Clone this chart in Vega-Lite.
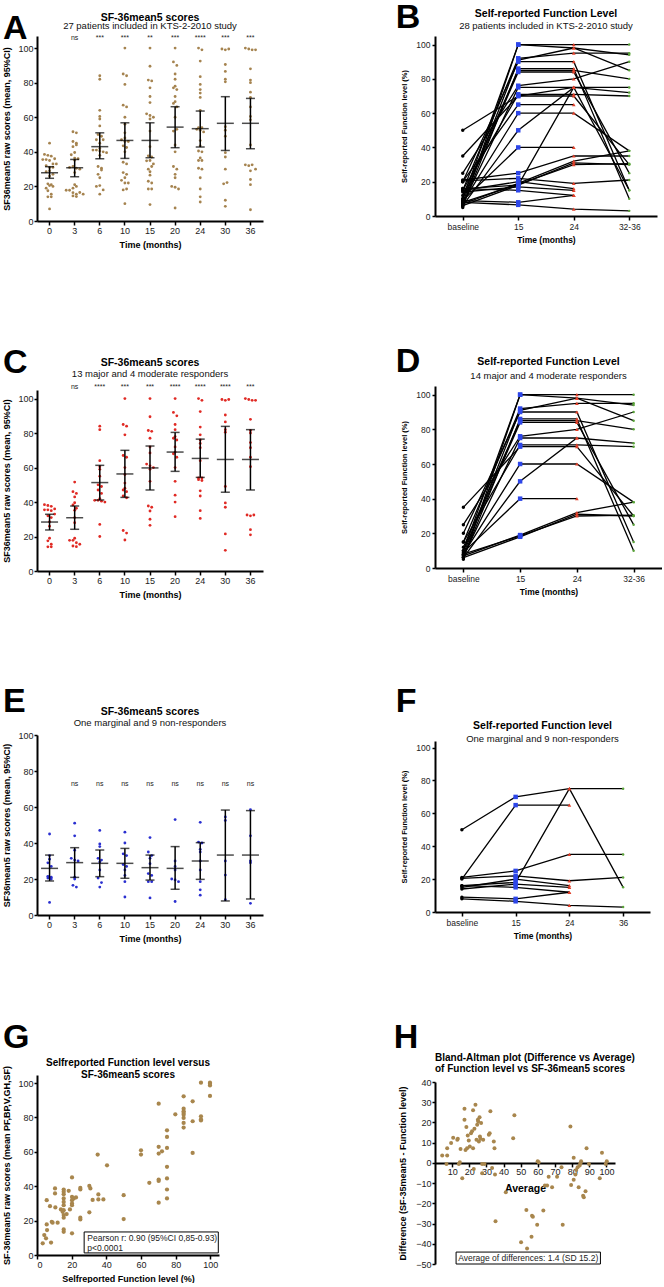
{
"$schema":"https://vega.github.io/schema/vega-lite/v6.json",
"padding":{"left":2,"top":0,"right":0,"bottom":0},
"background":"white",
"config":{"font":"Liberation Sans","view":{"stroke":null},
"axis":{"domainColor":"black","domainWidth":2,"tickColor":"black","tickWidth":1.5,"labelColor":"#222","labelFontSize":9,"titleFontWeight":"bold","titleFontSize":9,"titleColor":"black","grid":false,"labelPadding":1,"titlePadding":5,"labelOverlap":false},
"axisX":{"tickSize":4},"axisY":{"tickSize":3},
"title":{"color":"black","subtitleColor":"#111"}},
"datasets":{
"sf":[
{"g":"R","t":"0","v":38.5},{"g":"R","t":"0","v":38},{"g":"R","t":"0","v":37.5},{"g":"R","t":"0","v":36},{"g":"R","t":"0","v":35.5},{"g":"R","t":"0","v":35.5},{"g":"R","t":"0","v":35},{"g":"R","t":"0","v":33},{"g":"R","t":"0","v":32},{"g":"R","t":"0","v":31},{"g":"R","t":"0","v":28.5},{"g":"R","t":"0","v":26},{"g":"R","t":"0","v":19},{"g":"R","t":"0","v":17.5},{"g":"R","t":"0","v":15.5},{"g":"R","t":"0","v":14},{"g":"R","t":"0","v":14},
{"g":"R","t":"3","v":51.6},{"g":"R","t":"3","v":46},{"g":"R","t":"3","v":45},{"g":"R","t":"3","v":43},{"g":"R","t":"3","v":39.6},{"g":"R","t":"3","v":38.3},{"g":"R","t":"3","v":36.4},{"g":"R","t":"3","v":35.2},{"g":"R","t":"3","v":31},{"g":"R","t":"3","v":28},{"g":"R","t":"3","v":19},{"g":"R","t":"3","v":17.8},{"g":"R","t":"3","v":17.8},{"g":"R","t":"3","v":16.4},{"g":"R","t":"3","v":15.5},{"g":"R","t":"3","v":14.5},{"g":"R","t":"3","v":14.1},
{"g":"R","t":"6","v":84},{"g":"R","t":"6","v":82},{"g":"R","t":"6","v":64},{"g":"R","t":"6","v":60.5},{"g":"R","t":"6","v":59},{"g":"R","t":"6","v":55},{"g":"R","t":"6","v":50},{"g":"R","t":"6","v":49},{"g":"R","t":"6","v":47},{"g":"R","t":"6","v":45},{"g":"R","t":"6","v":42},{"g":"R","t":"6","v":41},{"g":"R","t":"6","v":41},{"g":"R","t":"6","v":40.5},{"g":"R","t":"6","v":40},{"g":"R","t":"6","v":27},{"g":"R","t":"6","v":20},
{"g":"R","t":"10","v":100},{"g":"R","t":"10","v":85},{"g":"R","t":"10","v":84},{"g":"R","t":"10","v":79},{"g":"R","t":"10","v":67},{"g":"R","t":"10","v":66},{"g":"R","t":"10","v":60},{"g":"R","t":"10","v":56},{"g":"R","t":"10","v":51},{"g":"R","t":"10","v":48},{"g":"R","t":"10","v":47},{"g":"R","t":"10","v":46},{"g":"R","t":"10","v":43.5},{"g":"R","t":"10","v":42.5},{"g":"R","t":"10","v":23.5},{"g":"R","t":"10","v":22},{"g":"R","t":"10","v":18},
{"g":"R","t":"15","v":100},{"g":"R","t":"15","v":89.5},{"g":"R","t":"15","v":81.5},{"g":"R","t":"15","v":81},{"g":"R","t":"15","v":77},{"g":"R","t":"15","v":72},{"g":"R","t":"15","v":68.5},{"g":"R","t":"15","v":62},{"g":"R","t":"15","v":61},{"g":"R","t":"15","v":60},{"g":"R","t":"15","v":59},{"g":"R","t":"15","v":52},{"g":"R","t":"15","v":37.7},{"g":"R","t":"15","v":37},{"g":"R","t":"15","v":34.8},{"g":"R","t":"15","v":30},{"g":"R","t":"15","v":26.5},
{"g":"R","t":"20","v":100},{"g":"R","t":"20","v":92},{"g":"R","t":"20","v":90},{"g":"R","t":"20","v":85},{"g":"R","t":"20","v":82},{"g":"R","t":"20","v":78},{"g":"R","t":"20","v":77},{"g":"R","t":"20","v":76},{"g":"R","t":"20","v":72},{"g":"R","t":"20","v":69},{"g":"R","t":"20","v":68},{"g":"R","t":"20","v":66},{"g":"R","t":"20","v":60},{"g":"R","t":"20","v":52},{"g":"R","t":"20","v":44},{"g":"R","t":"20","v":40},{"g":"R","t":"20","v":31.5},
{"g":"R","t":"24","v":100},{"g":"R","t":"24","v":99},{"g":"R","t":"24","v":92.5},{"g":"R","t":"24","v":83.5},{"g":"R","t":"24","v":79},{"g":"R","t":"24","v":76},{"g":"R","t":"24","v":74},{"g":"R","t":"24","v":71.5},{"g":"R","t":"24","v":64},{"g":"R","t":"24","v":54},{"g":"R","t":"24","v":54},{"g":"R","t":"24","v":53},{"g":"R","t":"24","v":52.5},{"g":"R","t":"24","v":46.5},{"g":"R","t":"24","v":43.5},{"g":"R","t":"24","v":35},{"g":"R","t":"24","v":30.5},
{"g":"R","t":"30","v":99.5},{"g":"R","t":"30","v":99},{"g":"R","t":"30","v":99.5},{"g":"R","t":"30","v":90.5},{"g":"R","t":"30","v":86.5},{"g":"R","t":"30","v":82},{"g":"R","t":"30","v":80.5},{"g":"R","t":"30","v":49},{"g":"R","t":"30","v":39.5},{"g":"R","t":"30","v":37},{"g":"R","t":"30","v":21.5},{"g":"R","t":"30","v":12},
{"g":"R","t":"36","v":100},{"g":"R","t":"36","v":99.5},{"g":"R","t":"36","v":99},{"g":"R","t":"36","v":99},{"g":"R","t":"36","v":88},{"g":"R","t":"36","v":81.5},{"g":"R","t":"36","v":80},{"g":"R","t":"36","v":74.5},{"g":"R","t":"36","v":71.5},{"g":"R","t":"36","v":66},{"g":"R","t":"36","v":60.5},{"g":"R","t":"36","v":32.5},{"g":"R","t":"36","v":32},{"g":"R","t":"36","v":32.5},{"g":"R","t":"36","v":24},{"g":"R","t":"36","v":21},
{"g":"N","t":"0","v":45},{"g":"N","t":"0","v":33},{"g":"N","t":"0","v":31},{"g":"N","t":"0","v":29},{"g":"N","t":"0","v":27},{"g":"N","t":"0","v":21.5},{"g":"N","t":"0","v":21},{"g":"N","t":"0","v":20.5},{"g":"N","t":"0","v":20},{"g":"N","t":"0","v":7},
{"g":"N","t":"3","v":51},{"g":"N","t":"3","v":44},{"g":"N","t":"3","v":36},{"g":"N","t":"3","v":31.5},{"g":"N","t":"3","v":30.5},{"g":"N","t":"3","v":30},{"g":"N","t":"3","v":21},{"g":"N","t":"3","v":20},{"g":"N","t":"3","v":16.5},{"g":"N","t":"3","v":15.5},
{"g":"N","t":"6","v":47},{"g":"N","t":"6","v":39.5},{"g":"N","t":"6","v":38},{"g":"N","t":"6","v":31.5},{"g":"N","t":"6","v":30.5},{"g":"N","t":"6","v":29.5},{"g":"N","t":"6","v":25},{"g":"N","t":"6","v":20.5},{"g":"N","t":"6","v":18},{"g":"N","t":"6","v":15.5},
{"g":"N","t":"10","v":46},{"g":"N","t":"10","v":40},{"g":"N","t":"10","v":34},{"g":"N","t":"10","v":33},{"g":"N","t":"10","v":28},{"g":"N","t":"10","v":27},{"g":"N","t":"10","v":25},{"g":"N","t":"10","v":22},{"g":"N","t":"10","v":18.5},{"g":"N","t":"10","v":10},
{"g":"N","t":"15","v":43},{"g":"N","t":"15","v":35},{"g":"N","t":"15","v":33},{"g":"N","t":"15","v":31.5},{"g":"N","t":"15","v":28.5},{"g":"N","t":"15","v":23},{"g":"N","t":"15","v":22},{"g":"N","t":"15","v":18.5},{"g":"N","t":"15","v":18.5},{"g":"N","t":"15","v":9.5},
{"g":"N","t":"20","v":53},{"g":"N","t":"20","v":30},{"g":"N","t":"20","v":27},{"g":"N","t":"20","v":25},{"g":"N","t":"20","v":20},{"g":"N","t":"20","v":19.5},{"g":"N","t":"20","v":18.5},{"g":"N","t":"20","v":7.5},
{"g":"N","t":"24","v":51.5},{"g":"N","t":"24","v":40.5},{"g":"N","t":"24","v":40},{"g":"N","t":"24","v":36.5},{"g":"N","t":"24","v":35},{"g":"N","t":"24","v":30},{"g":"N","t":"24","v":25},{"g":"N","t":"24","v":18.5},{"g":"N","t":"24","v":14},{"g":"N","t":"24","v":11},
{"g":"N","t":"30","v":54.5},{"g":"N","t":"30","v":52.5},{"g":"N","t":"30","v":30},{"g":"N","t":"30","v":22.2},{"g":"N","t":"30","v":8.5},
{"g":"N","t":"36","v":58.5},{"g":"N","t":"36","v":44},{"g":"N","t":"36","v":30},{"g":"N","t":"36","v":29},{"g":"N","t":"36","v":6.5}
],
"st":[
{"p":"A","t":"0","m":27.9,"lo":24.7,"hi":31.4},{"p":"A","t":"3","m":30.8,"lo":25.6,"hi":35.6},{"p":"A","t":"6","m":43,"lo":36,"hi":51},{"p":"A","t":"10","m":46.6,"lo":36.2,"hi":56.8},{"p":"A","t":"15","m":46.6,"lo":36.6,"hi":56.8},{"p":"A","t":"20","m":54.3,"lo":42.4,"hi":66.1},{"p":"A","t":"24","m":53.4,"lo":42.8,"hi":63.6},{"p":"A","t":"30","m":56.5,"lo":40.8,"hi":71.9},{"p":"A","t":"36","m":56.5,"lo":41.8,"hi":70.9},
{"p":"C","t":"0","m":28.4,"lo":23.8,"hi":32.9},{"p":"C","t":"3","m":30.9,"lo":24.2,"hi":37.7},{"p":"C","t":"6","m":51.3,"lo":41.2,"hi":61.3},{"p":"C","t":"10","m":56.3,"lo":42.7,"hi":70},{"p":"C","t":"15","m":59.8,"lo":47,"hi":72.5},{"p":"C","t":"20","m":69,"lo":57.8,"hi":80.4},{"p":"C","t":"24","m":65.3,"lo":54.3,"hi":76.5},{"p":"C","t":"30","m":64.7,"lo":45.7,"hi":83.9},{"p":"C","t":"36","m":64.7,"lo":47,"hi":82},
{"p":"E","t":"0","m":25.9,"lo":18.9,"hi":33.3},{"p":"E","t":"3","m":29.1,"lo":20.9,"hi":37.4},{"p":"E","t":"6","m":28.7,"lo":21.3,"hi":36.1},{"p":"E","t":"10","m":28.7,"lo":20.4,"hi":37},{"p":"E","t":"15","m":26.3,"lo":19.4,"hi":33.3},{"p":"E","t":"20","m":25.9,"lo":14.3,"hi":38},{"p":"E","t":"24","m":30,"lo":19.8,"hi":40.2},{"p":"E","t":"30","m":33.3,"lo":7.8,"hi":58.3},{"p":"E","t":"36","m":33.3,"lo":8.9,"hi":58}
],
"sig":[
{"p":"A","t":"3","s":"ns"},{"p":"A","t":"6","s":"***"},{"p":"A","t":"10","s":"***"},{"p":"A","t":"15","s":"**"},{"p":"A","t":"20","s":"***"},{"p":"A","t":"24","s":"****"},{"p":"A","t":"30","s":"***"},{"p":"A","t":"36","s":"***"},
{"p":"C","t":"3","s":"ns"},{"p":"C","t":"6","s":"****"},{"p":"C","t":"10","s":"***"},{"p":"C","t":"15","s":"***"},{"p":"C","t":"20","s":"****"},{"p":"C","t":"24","s":"****"},{"p":"C","t":"30","s":"****"},{"p":"C","t":"36","s":"***"},
{"p":"E","t":"3","s":"ns"},{"p":"E","t":"6","s":"ns"},{"p":"E","t":"10","s":"ns"},{"p":"E","t":"15","s":"ns"},{"p":"E","t":"20","s":"ns"},{"p":"E","t":"24","s":"ns"},{"p":"E","t":"30","s":"ns"},{"p":"E","t":"36","s":"ns"}
],
"fl":[
{"id":"d1","g":"R","tp":"baseline","v":5},{"id":"d1","g":"R","tp":"15","v":100},{"id":"d1","g":"R","tp":"24","v":100},{"id":"d1","g":"R","tp":"32-36","v":100},
{"id":"d2","g":"R","tp":"baseline","v":10},{"id":"d2","g":"R","tp":"15","v":100},{"id":"d2","g":"R","tp":"24","v":98},{"id":"d2","g":"R","tp":"32-36","v":85},
{"id":"d3","g":"R","tp":"baseline","v":15},{"id":"d3","g":"R","tp":"15","v":92},{"id":"d3","g":"R","tp":"24","v":95},{"id":"d3","g":"R","tp":"32-36","v":95},
{"id":"d4","g":"R","tp":"baseline","v":8},{"id":"d4","g":"R","tp":"15","v":91},{"id":"d4","g":"R","tp":"24","v":98},{"id":"d4","g":"R","tp":"32-36","v":94},
{"id":"d5","g":"R","tp":"baseline","v":20},{"id":"d5","g":"R","tp":"15","v":90},{"id":"d5","g":"R","tp":"24","v":90},{"id":"d5","g":"R","tp":"32-36","v":15},
{"id":"d6","g":"R","tp":"baseline","v":6},{"id":"d6","g":"R","tp":"15","v":86},{"id":"d6","g":"R","tp":"24","v":86},{"id":"d6","g":"R","tp":"32-36","v":10},
{"id":"d7","g":"R","tp":"baseline","v":12},{"id":"d7","g":"R","tp":"15","v":85},{"id":"d7","g":"R","tp":"24","v":85},{"id":"d7","g":"R","tp":"32-36","v":80},
{"id":"d8","g":"R","tp":"baseline","v":10},{"id":"d8","g":"R","tp":"15","v":84},{"id":"d8","g":"R","tp":"24","v":84},{"id":"d8","g":"R","tp":"32-36","v":25},
{"id":"d9","g":"R","tp":"baseline","v":25},{"id":"d9","g":"R","tp":"15","v":76},{"id":"d9","g":"R","tp":"24","v":80},{"id":"d9","g":"R","tp":"32-36","v":90},
{"id":"d10","g":"R","tp":"baseline","v":7},{"id":"d10","g":"R","tp":"15","v":75},{"id":"d10","g":"R","tp":"24","v":75},
{"id":"d11","g":"R","tp":"baseline","v":15},{"id":"d11","g":"R","tp":"15","v":71},{"id":"d11","g":"R","tp":"24","v":71},{"id":"d11","g":"R","tp":"32-36","v":70},
{"id":"d12","g":"R","tp":"baseline","v":35},{"id":"d12","g":"R","tp":"15","v":70},{"id":"d12","g":"R","tp":"24","v":70},{"id":"d12","g":"R","tp":"32-36","v":30},
{"id":"d13","g":"R","tp":"baseline","v":8},{"id":"d13","g":"R","tp":"15","v":60},{"id":"d13","g":"R","tp":"24","v":60},{"id":"d13","g":"R","tp":"32-36","v":38},
{"id":"d14","g":"R","tp":"baseline","v":6},{"id":"d14","g":"R","tp":"15","v":50},{"id":"d14","g":"R","tp":"24","v":75},{"id":"d14","g":"R","tp":"32-36","v":72},
{"id":"d15","g":"R","tp":"baseline","v":9},{"id":"d15","g":"R","tp":"15","v":40},{"id":"d15","g":"R","tp":"24","v":40},
{"id":"d16","g":"R","tp":"baseline","v":7},{"id":"d16","g":"R","tp":"15","v":19},{"id":"d16","g":"R","tp":"24","v":32},{"id":"d16","g":"R","tp":"32-36","v":38},
{"id":"d17","g":"R","tp":"baseline","v":8},{"id":"d17","g":"R","tp":"15","v":18.5},{"id":"d17","g":"R","tp":"24","v":30},{"id":"d17","g":"R","tp":"32-36","v":30.5},
{"id":"d18","g":"R","tp":"baseline","v":6},{"id":"d18","g":"R","tp":"15","v":18},{"id":"d18","g":"R","tp":"24","v":31},{"id":"d18","g":"R","tp":"32-36","v":30},
{"id":"f1","g":"N","tp":"baseline","v":50},{"id":"f1","g":"N","tp":"15","v":70},{"id":"f1","g":"N","tp":"24","v":75},{"id":"f1","g":"N","tp":"32-36","v":75},
{"id":"f2","g":"N","tp":"baseline","v":20},{"id":"f2","g":"N","tp":"15","v":65},{"id":"f2","g":"N","tp":"24","v":65},
{"id":"f3","g":"N","tp":"baseline","v":16},{"id":"f3","g":"N","tp":"15","v":18},{"id":"f3","g":"N","tp":"24","v":75},{"id":"f3","g":"N","tp":"32-36","v":15},
{"id":"f4","g":"N","tp":"baseline","v":21},{"id":"f4","g":"N","tp":"15","v":25},{"id":"f4","g":"N","tp":"24","v":35},{"id":"f4","g":"N","tp":"32-36","v":35},
{"id":"f5","g":"N","tp":"baseline","v":20.5},{"id":"f5","g":"N","tp":"15","v":22},{"id":"f5","g":"N","tp":"24","v":19},{"id":"f5","g":"N","tp":"32-36","v":21},
{"id":"f6","g":"N","tp":"baseline","v":15},{"id":"f6","g":"N","tp":"15","v":20},{"id":"f6","g":"N","tp":"24","v":16},
{"id":"f7","g":"N","tp":"baseline","v":14},{"id":"f7","g":"N","tp":"15","v":17},{"id":"f7","g":"N","tp":"24","v":15},
{"id":"f8","g":"N","tp":"baseline","v":16},{"id":"f8","g":"N","tp":"15","v":15},{"id":"f8","g":"N","tp":"24","v":12},
{"id":"f9","g":"N","tp":"baseline","v":9},{"id":"f9","g":"N","tp":"15","v":8},{"id":"f9","g":"N","tp":"24","v":12},
{"id":"f10","g":"N","tp":"baseline","v":8},{"id":"f10","g":"N","tp":"15","v":6.5},{"id":"f10","g":"N","tp":"24","v":4},{"id":"f10","g":"N","tp":"32-36","v":3}
],
"corr":[
{"fl":3.3,"sf":6.8},{"fl":4.2,"sf":11.6},{"fl":5.8,"sf":14.5},{"fl":5.2,"sf":9.7},{"fl":5.6,"sf":17.8},{"fl":5.6,"sf":31.9},{"fl":7.5,"sf":28.4},{"fl":8.1,"sf":7.2},{"fl":8.5,"sf":19.3},{"fl":9,"sf":18.8},
{"fl":10.4,"sf":38.7},{"fl":10.4,"sf":35.8},{"fl":10.6,"sf":27.7},{"fl":11.9,"sf":18.8},{"fl":13.8,"sf":26.5},{"fl":14.8,"sf":25.1},{"fl":15.4,"sf":38.1},{"fl":15.4,"sf":36.8},{"fl":15.4,"sf":35.4},{"fl":15.4,"sf":32.9},
{"fl":15.4,"sf":30.9},{"fl":15.4,"sf":29},{"fl":15.4,"sf":26.1},{"fl":15.4,"sf":23.2},{"fl":15.4,"sf":21.7},{"fl":15.4,"sf":14.9},{"fl":15.4,"sf":13.5},{"fl":17.1,"sf":23.8},{"fl":18.3,"sf":37.3},{"fl":19,"sf":26.5},
{"fl":20.2,"sf":45.1},{"fl":20.2,"sf":33.8},{"fl":20.2,"sf":31.9},{"fl":20.2,"sf":30},{"fl":20.2,"sf":29},{"fl":20.2,"sf":12.6},{"fl":21.2,"sf":32.9},{"fl":22.5,"sf":33.5},{"fl":25,"sf":39},{"fl":25,"sf":38.1},
{"fl":25,"sf":21.7},{"fl":25,"sf":20.7},{"fl":30.2,"sf":40.2},{"fl":30.8,"sf":38.7},{"fl":30.2,"sf":24.8},{"fl":32.1,"sf":32},{"fl":35,"sf":58.4},{"fl":35.4,"sf":35.2},{"fl":35.4,"sf":32.3},{"fl":38.3,"sf":32.3},
{"fl":40.4,"sf":52.2},{"fl":50,"sf":34.8},{"fl":50,"sf":20.9},{"fl":60,"sf":60.9},{"fl":60,"sf":58.4},{"fl":64.8,"sf":42},{"fl":70.2,"sf":88},{"fl":70.2,"sf":62.9},{"fl":70.2,"sf":59},{"fl":70.2,"sf":43.9},
{"fl":70.2,"sf":43.1},{"fl":70.2,"sf":30.4},{"fl":72.1,"sf":60.3},{"fl":75,"sf":72.5},{"fl":75,"sf":68.7},{"fl":75,"sf":62.3},{"fl":75,"sf":51.3},{"fl":75,"sf":44.5},{"fl":75,"sf":38.1},{"fl":75,"sf":32.9},
{"fl":79.8,"sf":81.8},{"fl":84.6,"sf":92.3},{"fl":84.6,"sf":85.1},{"fl":84.6,"sf":83.6},{"fl":84.6,"sf":82.6},{"fl":84.6,"sf":81.6},{"fl":84.6,"sf":79.7},{"fl":84.6,"sf":76.8},{"fl":84.6,"sf":74.1},{"fl":89.8,"sf":89.4},
{"fl":89.8,"sf":77.8},{"fl":89.8,"sf":59.4},{"fl":94.6,"sf":100.2},{"fl":94.6,"sf":80.7},{"fl":94.6,"sf":78.9},{"fl":94.6,"sf":78.3},{"fl":99.8,"sf":100.2},{"fl":99.8,"sf":99.6},{"fl":99.8,"sf":98.6},{"fl":99.8,"sf":92.5}
],
"ba":[
{"avg":4.2,"diff":3.6},{"avg":7.1,"diff":7.3},{"avg":7.1,"diff":3.6},{"avg":6.7,"diff":-0.5},{"avg":9.4,"diff":9.8},{"avg":10.6,"diff":12.4},{"avg":13,"diff":11.4},{"avg":13.3,"diff":11.9},{"avg":13.9,"diff":-0.5},{"avg":14.5,"diff":0.3},
{"avg":14.9,"diff":6.9},{"avg":15.9,"diff":-7.6},{"avg":17.2,"diff":26.8},{"avg":17.2,"diff":21.3},{"avg":17.8,"diff":6.4},{"avg":18.3,"diff":17.7},{"avg":18.7,"diff":7.3},{"avg":19.1,"diff":13.6},{"avg":19.7,"diff":11.1},{"avg":20.3,"diff":8.1},
{"avg":21,"diff":14.7},{"avg":21.6,"diff":15.7},{"avg":22.2,"diff":7.3},{"avg":22.2,"diff":26},{"avg":22.6,"diff":-3},{"avg":23,"diff":16.9},{"avg":23.6,"diff":28.8},{"avg":24.2,"diff":11.4},{"avg":24.6,"diff":18.8},{"avg":25,"diff":21.3},
{"avg":25.2,"diff":20.5},{"avg":25.6,"diff":10.6},{"avg":26,"diff":22.6},{"avg":26.2,"diff":13.1},{"avg":26.5,"diff":11.9},{"avg":26.9,"diff":19.7},{"avg":27.5,"diff":-0.5},{"avg":27.5,"diff":-5.1},{"avg":28.1,"diff":11.4},{"avg":28.9,"diff":-0.5},
{"avg":31.4,"diff":13.9},{"avg":31.9,"diff":14.7},{"avg":32.3,"diff":25.5},{"avg":33.3,"diff":-2.5},{"avg":34.3,"diff":10.6},{"avg":34.7,"diff":7.3},{"avg":35,"diff":-5.8},{"avg":35.3,"diff":-28.9},{"avg":41.3,"diff":-14.5},{"avg":45.6,"diff":12.2},
{"avg":46.3,"diff":23.5},{"avg":50.2,"diff":-39.3},{"avg":53.3,"diff":-23.3},{"avg":53.7,"diff":-42.3},{"avg":56.3,"diff":-36.5},{"avg":56.6,"diff":-26.1},{"avg":57.1,"diff":-26.6},{"avg":59.6,"diff":-30.6},{"avg":59.9,"diff":0.8},{"avg":60.5,"diff":0.3},
{"avg":63.2,"diff":-23.6},{"avg":64.1,"diff":-11.2},{"avg":65.4,"diff":-11.2},{"avg":66.3,"diff":-6.8},{"avg":68.3,"diff":-12.1},{"avg":71.2,"diff":-6.8},{"avg":73.8,"diff":-2.1},{"avg":74.5,"diff":-30.6},{"avg":79,"diff":18},{"avg":79.4,"diff":-10.9},
{"avg":80.9,"diff":2.5},{"avg":80.9,"diff":-8.3},{"avg":81.9,"diff":-5.8},{"avg":82.4,"diff":-3.5},{"avg":83.2,"diff":-2.1},{"avg":83.8,"diff":-12.1},{"avg":84.4,"diff":-1.3},{"avg":84.8,"diff":-0.2},{"avg":85.2,"diff":0.8},{"avg":86.4,"diff":-16.2},
{"avg":86.8,"diff":-17},{"avg":87.8,"diff":-14},{"avg":88.4,"diff":7.3},{"avg":89.8,"diff":-0.5},{"avg":96.1,"diff":-7.6},{"avg":97.4,"diff":5},{"avg":99.6,"diff":-0.5},{"avg":100.2,"diff":0.8}
]
},
"spacing":130,
"hconcat":[
{"spacing":96,"vconcat":[
 {"title":{"text":"A","fontSize":34,"fontWeight":"bold","anchor":"start","frame":"bounds","offset":-33},
  "vconcat":[{"width":226,"height":185,
   "title":{"text":"SF-36mean5 scores","subtitle":"27 patients included in KTS-2-2010 study","fontSize":10.5,"fontWeight":"bold","subtitleFontSize":9.5,"anchor":"middle","frame":"group","offset":2.8,"subtitlePadding":-2},
   "layer":[
    {"data":{"name":"sf"},"transform":[{"calculate":"floor(datum.v/3)","as":"vb"},{"window":[{"op":"row_number","as":"r"}],"groupby":["t","vb"]},{"joinaggregate":[{"op":"count","as":"n"}],"groupby":["t","vb"]},{"calculate":"(datum.r-(datum.n+1)/2)*3.4","as":"off"}],
     "mark":{"type":"circle","size":8,"opacity":1,"color":"#a5834f"},
     "encoding":{"x":{"field":"t","type":"ordinal","scale":{"type":"band","paddingInner":0,"paddingOuter":0,"domain":["0","3","6","10","15","20","24","30","36"]},"axis":{"title":"Time (months)","labelAngle":0}},
      "xOffset":{"field":"off","type":"quantitative","scale":{"domain":[-20,20],"range":[-7.44,32.56]}},
      "y":{"field":"v","type":"quantitative","scale":{"domain":[0,107],"nice":false},"axis":{"values":[0,20,40,60,80,100],"labelOverlap":false,"labelFontSize":9,"title":"SF36mean5 raw scores (mean, 95%CI)","titlePadding":6}}}},
    {"data":{"name":"st"},"transform":[{"filter":"datum.p=='A'"}],"mark":{"type":"rule","color":"black","strokeWidth":1.5},"encoding":{"x":{"field":"t","type":"ordinal","axis":{"title":"Time (months)","labelAngle":0}},"y":{"field":"lo","type":"quantitative","axis":{"values":[0,20,40,60,80,100],"labelOverlap":false,"labelFontSize":9,"title":"SF36mean5 raw scores (mean, 95%CI)","titlePadding":6}},"y2":{"field":"hi"}}},
    {"data":{"name":"st"},"transform":[{"filter":"datum.p=='A'"}],"mark":{"type":"tick","color":"black","thickness":1.5,"size":17},"encoding":{"x":{"field":"t","type":"ordinal","axis":{"title":"Time (months)","labelAngle":0}},"y":{"field":"m","type":"quantitative","axis":{"values":[0,20,40,60,80,100],"labelOverlap":false,"labelFontSize":9,"title":"SF36mean5 raw scores (mean, 95%CI)","titlePadding":6}}}},
    {"data":{"name":"st"},"transform":[{"filter":"datum.p=='A'"}],"mark":{"type":"tick","color":"black","thickness":1.5,"size":9},"encoding":{"x":{"field":"t","type":"ordinal","axis":{"title":"Time (months)","labelAngle":0}},"y":{"field":"lo","type":"quantitative","axis":{"values":[0,20,40,60,80,100],"labelOverlap":false,"labelFontSize":9,"title":"SF36mean5 raw scores (mean, 95%CI)","titlePadding":6}}}},
    {"data":{"name":"st"},"transform":[{"filter":"datum.p=='A'"}],"mark":{"type":"tick","color":"black","thickness":1.5,"size":9},"encoding":{"x":{"field":"t","type":"ordinal","axis":{"title":"Time (months)","labelAngle":0}},"y":{"field":"hi","type":"quantitative","axis":{"values":[0,20,40,60,80,100],"labelOverlap":false,"labelFontSize":9,"title":"SF36mean5 raw scores (mean, 95%CI)","titlePadding":6}}}},
    {"data":{"name":"sig"},"transform":[{"filter":"datum.p=='A'"}],"mark":{"type":"text","fontSize":7,"color":"#222"},"encoding":{"x":{"field":"t","type":"ordinal","axis":{"title":"Time (months)","labelAngle":0}},"y":{"datum":106,"type":"quantitative","axis":{"values":[0,20,40,60,80,100],"labelOverlap":false,"labelFontSize":9,"title":"SF36mean5 raw scores (mean, 95%CI)","titlePadding":6}},"text":{"field":"s"}}}
   ]}]},
 {"spacing":85,"vconcat":[
  {"title":{"text":"C","fontSize":34,"fontWeight":"bold","anchor":"start","frame":"bounds","offset":-21.6},
   "vconcat":[{"width":226,"height":181,
    "title":{"text":"SF-36mean5 scores","subtitle":"13 major and 4 moderate responders","fontSize":10.5,"fontWeight":"bold","subtitleFontSize":9.5,"anchor":"middle","frame":"group","offset":4.5,"subtitlePadding":1},
    "layer":[
     {"data":{"name":"sf"},"transform":[{"filter":"datum.g=='R'"},{"calculate":"floor(datum.v/3)","as":"vb"},{"window":[{"op":"row_number","as":"r"}],"groupby":["t","vb"]},{"joinaggregate":[{"op":"count","as":"n"}],"groupby":["t","vb"]},{"calculate":"(datum.r-(datum.n+1)/2)*3.4","as":"off"}],
      "mark":{"type":"circle","size":8,"opacity":1,"color":"#e02a24"},
      "encoding":{"x":{"field":"t","type":"ordinal","scale":{"type":"band","paddingInner":0,"paddingOuter":0,"domain":["0","3","6","10","15","20","24","30","36"]},"axis":{"title":"Time (months)","labelAngle":0}},
       "xOffset":{"field":"off","type":"quantitative","scale":{"domain":[-20,20],"range":[-7.44,32.56]}},
       "y":{"field":"v","type":"quantitative","scale":{"domain":[0,105],"nice":false},"axis":{"values":[0,20,40,60,80,100],"labelOverlap":false,"labelFontSize":9,"title":"SF36mean5 raw scores (mean, 95%CI)","titlePadding":6}}}},
     {"data":{"name":"st"},"transform":[{"filter":"datum.p=='C'"}],"mark":{"type":"rule","color":"black","strokeWidth":1.5},"encoding":{"x":{"field":"t","type":"ordinal","axis":{"title":"Time (months)","labelAngle":0}},"y":{"field":"lo","type":"quantitative","axis":{"values":[0,20,40,60,80,100],"labelOverlap":false,"labelFontSize":9,"title":"SF36mean5 raw scores (mean, 95%CI)","titlePadding":6}},"y2":{"field":"hi"}}},
     {"data":{"name":"st"},"transform":[{"filter":"datum.p=='C'"}],"mark":{"type":"tick","color":"black","thickness":1.5,"size":17},"encoding":{"x":{"field":"t","type":"ordinal","axis":{"title":"Time (months)","labelAngle":0}},"y":{"field":"m","type":"quantitative","axis":{"values":[0,20,40,60,80,100],"labelOverlap":false,"labelFontSize":9,"title":"SF36mean5 raw scores (mean, 95%CI)","titlePadding":6}}}},
     {"data":{"name":"st"},"transform":[{"filter":"datum.p=='C'"}],"mark":{"type":"tick","color":"black","thickness":1.5,"size":9},"encoding":{"x":{"field":"t","type":"ordinal","axis":{"title":"Time (months)","labelAngle":0}},"y":{"field":"lo","type":"quantitative","axis":{"values":[0,20,40,60,80,100],"labelOverlap":false,"labelFontSize":9,"title":"SF36mean5 raw scores (mean, 95%CI)","titlePadding":6}}}},
     {"data":{"name":"st"},"transform":[{"filter":"datum.p=='C'"}],"mark":{"type":"tick","color":"black","thickness":1.5,"size":9},"encoding":{"x":{"field":"t","type":"ordinal","axis":{"title":"Time (months)","labelAngle":0}},"y":{"field":"hi","type":"quantitative","axis":{"values":[0,20,40,60,80,100],"labelOverlap":false,"labelFontSize":9,"title":"SF36mean5 raw scores (mean, 95%CI)","titlePadding":6}}}},
     {"data":{"name":"sig"},"transform":[{"filter":"datum.p=='C'"}],"mark":{"type":"text","fontSize":7,"color":"#222"},"encoding":{"x":{"field":"t","type":"ordinal","axis":{"title":"Time (months)","labelAngle":0}},"y":{"datum":106.5,"type":"quantitative","axis":{"values":[0,20,40,60,80,100],"labelOverlap":false,"labelFontSize":9,"title":"SF36mean5 raw scores (mean, 95%CI)","titlePadding":6}},"text":{"field":"s"}}}
    ]}]},
  {"spacing":77,"vconcat":[
   {"title":{"text":"E","fontSize":34,"fontWeight":"bold","anchor":"start","frame":"bounds","offset":-11.6},
    "vconcat":[{"width":226,"height":180,
     "title":{"text":"SF-36mean5 scores","subtitle":"One marginal and 9 non-responders","fontSize":10.5,"fontWeight":"bold","subtitleFontSize":9.5,"anchor":"middle","frame":"group","offset":3.1,"subtitlePadding":1},
     "layer":[
      {"data":{"name":"sf"},"transform":[{"filter":"datum.g=='N'"},{"calculate":"floor(datum.v/3)","as":"vb"},{"window":[{"op":"row_number","as":"r"}],"groupby":["t","vb"]},{"joinaggregate":[{"op":"count","as":"n"}],"groupby":["t","vb"]},{"calculate":"(datum.r-(datum.n+1)/2)*3.4","as":"off"}],
       "mark":{"type":"circle","size":8,"opacity":1,"color":"#2a2fd0"},
       "encoding":{"x":{"field":"t","type":"ordinal","scale":{"type":"band","paddingInner":0,"paddingOuter":0,"domain":["0","3","6","10","15","20","24","30","36"]},"axis":{"title":"Time (months)","labelAngle":0}},
        "xOffset":{"field":"off","type":"quantitative","scale":{"domain":[-20,20],"range":[-7.44,32.56]}},
        "y":{"field":"v","type":"quantitative","scale":{"domain":[0,100],"nice":false},"axis":{"values":[0,20,40,60,80,100],"labelOverlap":false,"labelFontSize":9,"title":"SF36mean5 raw scores (mean, 95%CI)","titlePadding":6}}}},
      {"data":{"name":"st"},"transform":[{"filter":"datum.p=='E'"}],"mark":{"type":"rule","color":"black","strokeWidth":1.5},"encoding":{"x":{"field":"t","type":"ordinal","axis":{"title":"Time (months)","labelAngle":0}},"y":{"field":"lo","type":"quantitative","axis":{"values":[0,20,40,60,80,100],"labelOverlap":false,"labelFontSize":9,"title":"SF36mean5 raw scores (mean, 95%CI)","titlePadding":6}},"y2":{"field":"hi"}}},
      {"data":{"name":"st"},"transform":[{"filter":"datum.p=='E'"}],"mark":{"type":"tick","color":"black","thickness":1.5,"size":17},"encoding":{"x":{"field":"t","type":"ordinal","axis":{"title":"Time (months)","labelAngle":0}},"y":{"field":"m","type":"quantitative","axis":{"values":[0,20,40,60,80,100],"labelOverlap":false,"labelFontSize":9,"title":"SF36mean5 raw scores (mean, 95%CI)","titlePadding":6}}}},
      {"data":{"name":"st"},"transform":[{"filter":"datum.p=='E'"}],"mark":{"type":"tick","color":"black","thickness":1.5,"size":9},"encoding":{"x":{"field":"t","type":"ordinal","axis":{"title":"Time (months)","labelAngle":0}},"y":{"field":"lo","type":"quantitative","axis":{"values":[0,20,40,60,80,100],"labelOverlap":false,"labelFontSize":9,"title":"SF36mean5 raw scores (mean, 95%CI)","titlePadding":6}}}},
      {"data":{"name":"st"},"transform":[{"filter":"datum.p=='E'"}],"mark":{"type":"tick","color":"black","thickness":1.5,"size":9},"encoding":{"x":{"field":"t","type":"ordinal","axis":{"title":"Time (months)","labelAngle":0}},"y":{"field":"hi","type":"quantitative","axis":{"values":[0,20,40,60,80,100],"labelOverlap":false,"labelFontSize":9,"title":"SF36mean5 raw scores (mean, 95%CI)","titlePadding":6}}}},
      {"data":{"name":"sig"},"transform":[{"filter":"datum.p=='E'"}],"mark":{"type":"text","fontSize":7,"color":"#222"},"encoding":{"x":{"field":"t","type":"ordinal","axis":{"title":"Time (months)","labelAngle":0}},"y":{"datum":73,"type":"quantitative","axis":{"values":[0,20,40,60,80,100],"labelOverlap":false,"labelFontSize":9,"title":"SF36mean5 raw scores (mean, 95%CI)","titlePadding":6}},"text":{"field":"s"}}}
     ]}]},
   {"title":{"text":"G","fontSize":34,"fontWeight":"bold","anchor":"start","frame":"bounds","offset":3.6},
    "vconcat":[{"width":182,"height":180,
     "title":{"text":["Selfreported Function level versus","SF-36mean5 scores"],"fontSize":10,"lineHeight":12,"fontWeight":"bold","anchor":"middle","frame":"group","offset":-14.7},
     "layer":[
      {"data":{"name":"corr"},"mark":{"type":"circle","size":18,"opacity":1,"color":"#a8864d"},
       "encoding":{"x":{"field":"fl","type":"quantitative","scale":{"domain":[0,105],"nice":false},"axis":{"values":[0,20,40,60,80,100],"labelOverlap":false,"labelFontSize":9,"title":"Selfreported Function level (%)"}},
        "y":{"field":"sf","type":"quantitative","scale":{"domain":[0,104.7],"nice":false},"axis":{"values":[0,20,40,60,80,100],"labelOverlap":false,"labelFontSize":9,"title":"SF-36mean5 raw scores (mean PF,BP,V,GH,SF)","titlePadding":6}}}},
      {"data":{"values":[{}]},"mark":{"type":"rect","fill":"white","stroke":"black","strokeWidth":1},"encoding":{"x":{"datum":27.2,"type":"quantitative","axis":{"values":[0,20,40,60,80,100],"labelOverlap":false,"labelFontSize":9,"title":"Selfreported Function level (%)"}},"x2":{"datum":104.6},"y":{"datum":1.2,"type":"quantitative","axis":{"values":[0,20,40,60,80,100],"labelOverlap":false,"labelFontSize":9,"title":"SF-36mean5 raw scores (mean PF,BP,V,GH,SF)","titlePadding":6}},"y2":{"datum":13.4}}},
      {"data":{"values":[{}]},"mark":{"type":"text","align":"left","fontSize":8.5,"color":"#222","text":"Pearson r: 0.90 (95%CI 0,85-0.93)"},"encoding":{"x":{"datum":29,"type":"quantitative","axis":{"values":[0,20,40,60,80,100],"labelOverlap":false,"labelFontSize":9,"title":"Selfreported Function level (%)"}},"y":{"datum":10,"type":"quantitative","axis":{"values":[0,20,40,60,80,100],"labelOverlap":false,"labelFontSize":9,"title":"SF-36mean5 raw scores (mean PF,BP,V,GH,SF)","titlePadding":6}}}},
      {"data":{"values":[{}]},"mark":{"type":"text","align":"left","fontSize":8.5,"color":"#222","text":"p<0.0001"},"encoding":{"x":{"datum":29,"type":"quantitative","axis":{"values":[0,20,40,60,80,100],"labelOverlap":false,"labelFontSize":9,"title":"Selfreported Function level (%)"}},"y":{"datum":4.3,"type":"quantitative","axis":{"values":[0,20,40,60,80,100],"labelOverlap":false,"labelFontSize":9,"title":"SF-36mean5 raw scores (mean PF,BP,V,GH,SF)","titlePadding":6}}}}
     ]}]}
  ]}
 ]}
]},
{"spacing":101,"vconcat":[
 {"title":{"text":"B","fontSize":34,"fontWeight":"bold","anchor":"start","frame":"bounds","offset":-25.5,"dx":-5},
  "vconcat":[{"width":222,"height":180,
   "title":{"text":"Self-reported Function Level","subtitle":"28 patients included in KTS-2-2010 study","fontSize":10.5,"fontWeight":"bold","subtitleFontSize":9.5,"anchor":"middle","frame":"group","offset":5.6,"subtitlePadding":1},
   "data":{"name":"fl"},
   "transform":[{"calculate":"indexof(['baseline','15','24','32-36'],datum.tp)","as":"k"}],
   "encoding":{"x":{"field":"tp","type":"ordinal","scale":{"type":"point","padding":0.5,"domain":["baseline","15","24","32-36"]},"axis":{"title":"Time (months)","labelAngle":0,"labelFontSize":8.5,"titleFontSize":8.5,"labelPadding":2}},
    "y":{"field":"v","type":"quantitative","scale":{"domain":[0,105],"nice":false},"axis":{"values":[0,20,40,60,80,100],"labelOverlap":false,"title":"Self-reported Function level (%)","titleFontSize":7.5,"labelFontSize":8.5,"titlePadding":7,"labelPadding":2}}},
   "layer":[
    {"mark":{"type":"line","color":"black","strokeWidth":1.3},"encoding":{"detail":{"field":"id"},"order":{"field":"k"}}},
    {"mark":{"type":"point","filled":true,"opacity":1},"encoding":{"shape":{"field":"tp","scale":{"domain":["baseline","15","24","32-36"],"range":["circle","square","triangle-up","circle"]},"legend":null},"color":{"field":"tp","scale":{"domain":["baseline","15","24","32-36"],"range":["black","#2d46e8","#e0402a","#5aa33a"]},"legend":null},"size":{"field":"tp","type":"nominal","scale":{"type":"ordinal","domain":["baseline","15","24","32-36"],"range":[12,20,14,6]},"legend":null}}}
   ]}]},
 {"spacing":89,"vconcat":[
  {"title":{"text":"D","fontSize":34,"fontWeight":"bold","anchor":"start","frame":"bounds","offset":-21.6,"dx":-5},
   "vconcat":[{"width":227,"height":182,
    "title":{"text":"Self-reported Function Level","subtitle":"14 major and 4 moderate responders","fontSize":10.5,"fontWeight":"bold","subtitleFontSize":9.5,"anchor":"middle","frame":"group","offset":5.6,"subtitlePadding":3},
    "data":{"name":"fl"},
    "transform":[{"filter":"datum.g=='R'"},{"calculate":"indexof(['baseline','15','24','32-36'],datum.tp)","as":"k"}],
    "encoding":{"x":{"field":"tp","type":"ordinal","scale":{"type":"point","padding":0.5,"domain":["baseline","15","24","32-36"]},"axis":{"title":"Time (months)","labelAngle":0,"labelFontSize":8.5,"titleFontSize":8.5,"labelPadding":2}},
     "y":{"field":"v","type":"quantitative","scale":{"domain":[0,105],"nice":false},"axis":{"values":[0,20,40,60,80,100],"labelOverlap":false,"title":"Self-reported Function level (%)","titleFontSize":7.5,"labelFontSize":8.5,"titlePadding":7,"labelPadding":2}}},
    "layer":[
     {"mark":{"type":"line","color":"black","strokeWidth":1.3},"encoding":{"detail":{"field":"id"},"order":{"field":"k"}}},
     {"mark":{"type":"point","filled":true,"opacity":1},"encoding":{"shape":{"field":"tp","scale":{"domain":["baseline","15","24","32-36"],"range":["circle","square","triangle-up","circle"]},"legend":null},"color":{"field":"tp","scale":{"domain":["baseline","15","24","32-36"],"range":["black","#2d46e8","#e0402a","#5aa33a"]},"legend":null},"size":{"field":"tp","type":"nominal","scale":{"type":"ordinal","domain":["baseline","15","24","32-36"],"range":[12,20,14,6]},"legend":null}}}
    ]}]},
  {"spacing":80,"vconcat":[
   {"title":{"text":"F","fontSize":34,"fontWeight":"bold","anchor":"start","frame":"bounds","offset":2.4,"dx":-5},
    "vconcat":[{"width":215,"height":171,
     "title":{"text":"Self-reported Function level","subtitle":"One marginal and 9 non-responders","fontSize":10.5,"fontWeight":"bold","subtitleFontSize":9.5,"anchor":"middle","frame":"group","offset":-2.4,"subtitlePadding":2},
     "data":{"name":"fl"},
     "transform":[{"filter":"datum.g=='N'"},{"calculate":"indexof(['baseline','15','24','32-36'],datum.tp)","as":"k"}],
     "encoding":{"x":{"field":"tp","type":"ordinal","scale":{"type":"point","padding":0.5,"domain":["baseline","15","24","32-36"]},"axis":{"title":"Time (months)","labelAngle":0,"labelFontSize":8.5,"titleFontSize":8.5,"labelPadding":2,"labelExpr":"datum.label=='32-36'?'36':datum.label"}},
      "y":{"field":"v","type":"quantitative","scale":{"domain":[0,104],"nice":false},"axis":{"values":[0,20,40,60,80,100],"labelOverlap":false,"title":"Self-reported Function level (%)","titleFontSize":7.5,"labelFontSize":8.5,"titlePadding":7,"labelPadding":2}}},
     "layer":[
      {"mark":{"type":"line","color":"black","strokeWidth":1.3},"encoding":{"detail":{"field":"id"},"order":{"field":"k"}}},
      {"mark":{"type":"point","filled":true,"opacity":1},"encoding":{"shape":{"field":"tp","scale":{"domain":["baseline","15","24","32-36"],"range":["circle","square","triangle-up","circle"]},"legend":null},"color":{"field":"tp","scale":{"domain":["baseline","15","24","32-36"],"range":["black","#2d46e8","#e0402a","#5aa33a"]},"legend":null},"size":{"field":"tp","type":"nominal","scale":{"type":"ordinal","domain":["baseline","15","24","32-36"],"range":[12,20,14,6]},"legend":null}}}
     ]}]},
   {"title":{"text":"H","fontSize":34,"fontWeight":"bold","anchor":"start","frame":"bounds","offset":-1.4,"dx":-5},
    "vconcat":[{"width":180,"height":182,
     "title":{"text":["Bland-Altman plot (Difference vs Average)","of Function level vs SF-36mean5 scores"],"fontSize":10,"lineHeight":11,"fontWeight":"bold","anchor":"start","frame":"group","offset":3.8},
     "layer":[
      {"data":{"name":"ba"},"mark":{"type":"circle","size":16,"opacity":1,"color":"#a8864d"},
       "encoding":{"x":{"field":"avg","type":"quantitative","scale":{"domain":[0,105],"nice":false},"axis":{"values":[10,20,30,40,50,60,70,80,90,100],"labelOverlap":false,"labelFontSize":9,"title":"Average","titleFontSize":10.5,"offset":-101.1,"titlePadding":6.5}},
        "y":{"field":"diff","type":"quantitative","scale":{"domain":[-50,40],"nice":false},"axis":{"values":[-50,-40,-30,-20,-10,0,10,20,30,40],"labelOverlap":false,"labelFontSize":9,"title":"Difference (SF-35mean5 - Function level)","titlePadding":8}}}},
      {"data":{"values":[{}]},"mark":{"type":"rect","fill":"white","stroke":"black","strokeWidth":1},"encoding":{"x":{"datum":12.3,"type":"quantitative","axis":{"values":[10,20,30,40,50,60,70,80,90,100],"labelOverlap":false,"labelFontSize":9,"title":"Average","titleFontSize":10.5,"offset":-101.1,"titlePadding":6.5}},"x2":{"datum":96.5},"y":{"datum":-50,"type":"quantitative","axis":{"values":[-50,-40,-30,-20,-10,0,10,20,30,40],"labelOverlap":false,"labelFontSize":9,"title":"Difference (SF-35mean5 - Function level)","titlePadding":8}},"y2":{"datum":-44.1}}},
      {"data":{"values":[{}]},"mark":{"type":"text","align":"center","fontSize":8.5,"color":"#222","text":"Average of differences: 1.4 (SD 15.2)"},"encoding":{"x":{"datum":54.4,"type":"quantitative","axis":{"values":[10,20,30,40,50,60,70,80,90,100],"labelOverlap":false,"labelFontSize":9,"title":"Average","titleFontSize":10.5,"offset":-101.1,"titlePadding":6.5}},"y":{"datum":-47,"type":"quantitative","axis":{"values":[-50,-40,-30,-20,-10,0,10,20,30,40],"labelOverlap":false,"labelFontSize":9,"title":"Difference (SF-35mean5 - Function level)","titlePadding":8}}}}
     ]}]}
  ]}
 ]}
]}
]
}
